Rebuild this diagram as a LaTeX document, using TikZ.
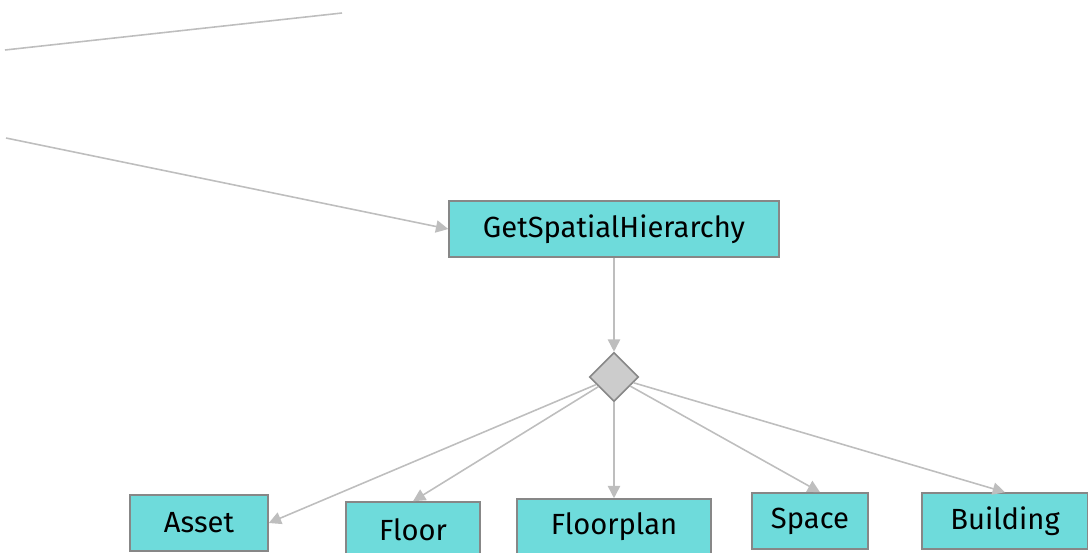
\documentclass[tikz,border=0pt]{standalone}
\usepackage{fontspec}
\setmainfont{Fira Sans}
\usetikzlibrary{arrows.meta,shapes.geometric}
\definecolor{boxfill}{RGB}{110,219,219}
\definecolor{boxline}{RGB}{135,135,135}
\definecolor{edgeline}{RGB}{190,190,190}
\tikzset{
    task/.style={draw=boxline, fill=boxfill, line width=0.9pt, minimum height=1.12cm,
                 inner sep=0pt, font=\fontsize{16.6}{19}\selectfont},
    gate/.style={diamond, draw=boxline, fill=black!20, line width=0.9pt,
                 minimum width=0.98cm, minimum height=0.98cm, inner sep=0pt},
    link/.style={draw=edgeline, line width=0.9pt, -{Triangle[length=7pt,width=7pt]}}
}

\begin{document}
\begin{tikzpicture}[x=0.02cm, y=-0.02cm]
    \useasboundingbox (0,0) rectangle (1088,552);
    \clip (0,0) rectangle (1088,552);

    % Nodes
    \node[task, minimum width=6.6cm] (hier) at (614,229) {GetSpatialHierarchy};
    \node[gate] (dia) at (614,377) {};
    \node[task, minimum width=2.76cm] (asset) at (199,523) {Asset};
    \node[task, minimum width=2.68cm] (floor) at (413,530) {Floor};
    \node[task, minimum width=3.88cm] (floorplan) at (614,527) {Floorplan};
    \node[task, minimum width=2.32cm] (space) at (810,521) {Space};
    \node[task, minimum width=3.32cm] (building) at (1005,521) {Building};

    % Loose ends coming from outside
    \coordinate (upA) at (5,50);
    \coordinate (upB) at (342,13);
    \coordinate (inA) at (6,138);

    % Edges
    \draw[draw=edgeline, line width=0.9pt] (upA) -- (upB);
    \draw[link] (inA) -- (hier.west);
    \draw[link] (hier) -- (dia);
    \draw[link] (dia) -- (asset.east);
    \draw[link] (dia) -- (floor.north);
    \draw[link] (dia) -- (floorplan);
    \draw[link] (dia) -- ([xshift=0.2cm]space.north);
    \draw[link] (dia) -- (building.north);
\end{tikzpicture}
\end{document}
